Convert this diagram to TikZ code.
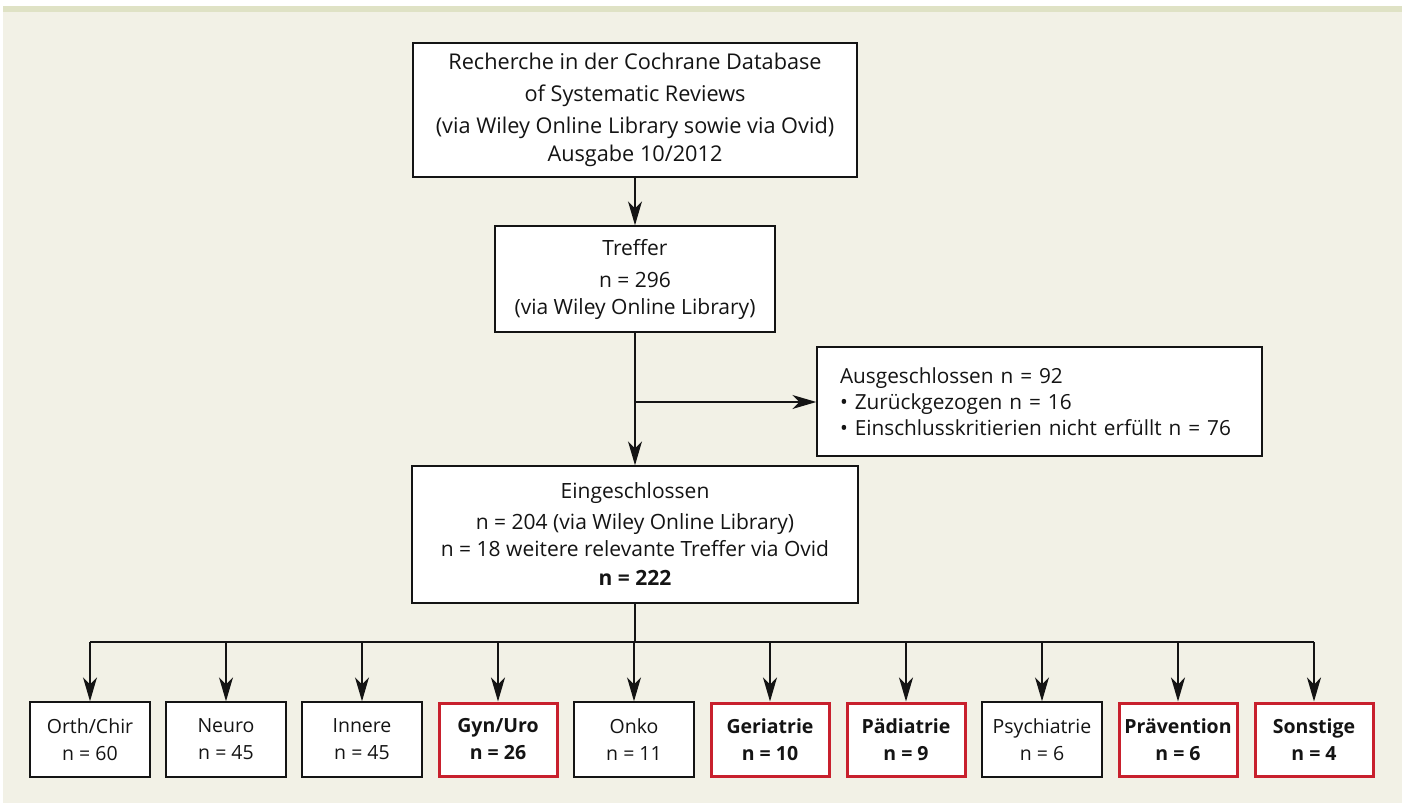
\documentclass[tikz,border=0pt]{standalone}
\usepackage{fontspec}
\setmainfont{Open Sans}
\usetikzlibrary{arrows.meta}
\definecolor{panel}{HTML}{F2F1E6}
\definecolor{strip}{HTML}{DFE2C5}
\definecolor{redb}{HTML}{C8202D}
\definecolor{ink}{HTML}{141414}
\begin{document}
\begin{tikzpicture}[x=1pt,y=-1pt,
  box/.style={draw=ink,line width=1.4pt,fill=white,align=center,text=ink,
    font=\fontsize{21}{27}\selectfont,inner sep=0pt,anchor=center},
  small/.style={box,minimum width=120pt,minimum height=75pt,font=\fontsize{19.5}{27}\selectfont},
  redbox/.style={small,draw=redb,line width=3pt,minimum width=118pt,minimum height=73pt,font=\bfseries\fontsize{19.5}{27}\selectfont},
  arr/.style={draw=ink,line width=1.4pt,-{Stealth[length=24pt,width=14pt,inset=7pt]}},
  ln/.style={draw=ink,line width=1.4pt}]
\fill[white] (0,0) rectangle (1408,805);
\fill[panel] (3,6) rectangle (1402,803);
\fill[strip] (3,6) rectangle (1402,12);
\useasboundingbox (0,0) rectangle (1408,805);

\node[box,minimum width=444pt,minimum height=134pt,font=\fontsize{21.7}{28}\selectfont] (top) at (635,110)
  {Recherche in der Cochrane Database\\[4pt] of Systematic Reviews\\[4pt] (via Wiley Online Library sowie via Ovid)\\ Ausgabe 10/2012};
\node[box,minimum width=280pt,minimum height=106pt] (tref) at (635,279)
  {Treffer\\[5pt] n = 296\\ (via Wiley Online Library)};
\node[box,minimum width=445pt,minimum height=109pt,text width=399pt,inner xsep=23pt,align=left,font=\fontsize{20.8}{26}\selectfont] (aus) at (1039.5,401.5)
  {Ausgeschlossen n = 92\\ \textbullet\ Zurückgezogen n = 16\\ \textbullet\ Einschlusskritierien nicht erfüllt n = 76};
\node[box,minimum width=446pt,minimum height=137pt] (ein) at (635,534.5)
  {Eingeschlossen\\[4pt] n = 204 (via Wiley Online Library)\\ n = 18 weitere relevante Treffer via Ovid\\[2pt] \textbf{n = 222}};

\node[small] (b1) at (90,739.5) {Orth/Chir\\ n = 60};
\node[small] (b2) at (226,739.5) {Neuro\\ n = 45};
\node[small] (b3) at (362,739.5) {Innere\\ n = 45};
\node[redbox] (b4) at (498,739.5) {Gyn/Uro\\ n = 26};
\node[small] (b5) at (634,739.5) {Onko\\ n = 11};
\node[redbox] (b6) at (770,739.5) {Geriatrie\\ n = 10};
\node[redbox] (b7) at (906,739.5) {Pädiatrie\\ n = 9};
\node[small] (b8) at (1042,739.5) {Psychiatrie\\ n = 6};
\node[redbox] (b9) at (1178,739.5) {Prävention\\ n = 6};
\node[redbox] (b10) at (1314,739.5) {Sonstige\\ n = 4};

\draw[arr] (top) -- (tref);
\draw[arr] (tref) -- (ein);
\coordinate (br) at (635,402);
\draw[arr] (br) -- (br -| aus.west);

\coordinate (bus) at (635,642);
\draw[ln] (ein.south) -- (bus);
\draw[ln] (b1.center |- bus) -- (b10.center |- bus);
\foreach \i in {1,...,10} {
  \draw[arr] (b\i.center |- bus) -- (b\i.north);
}
\end{tikzpicture}
\end{document}
